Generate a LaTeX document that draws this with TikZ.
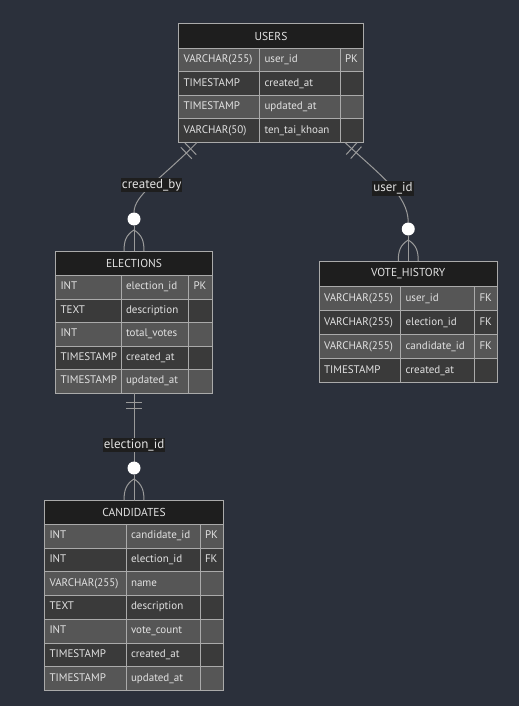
\documentclass[tikz,border=0pt]{standalone}
\usepackage{fontspec}
\setmainfont{PT Sans}
\usetikzlibrary{decorations.markings}

\definecolor{bgcol}{HTML}{2B303B}
\definecolor{hdrcol}{HTML}{1E1E1E}
\definecolor{rowa}{HTML}{565656}
\definecolor{rowb}{HTML}{3A3A3A}
\definecolor{edgecol}{HTML}{AAAAAA}
\definecolor{txtcol}{HTML}{E2E2E2}
\definecolor{linkcol}{HTML}{9A9A9A}

\tikzset{
  hdr/.style={draw=edgecol, fill=hdrcol, text=txtcol, line width=1pt, anchor=north west,
    inner sep=0pt, outer sep=0pt, font=\fontsize{11.5}{12}\selectfont},
  cell/.style={draw=edgecol, text=txtcol, line width=1pt, anchor=north west, inner xsep=5pt,
    inner ysep=0pt, outer sep=0pt, align=left, text height=7.5pt, text depth=2.5pt,
    font=\fontsize{11}{12}\selectfont},
  link/.style={draw=linkcol, line width=1pt},
  lbl/.style={fill=hdrcol, text=txtcol, inner xsep=1pt, inner ysep=1.5pt, font=\fontsize{13}{14}\selectfont},
  onemark/.style={postaction={decorate, decoration={markings,
      mark=at position 9pt with {\draw[linkcol, line width=1pt] (0pt,-8pt) -- (0pt,8pt);},
      mark=at position 15pt with {\draw[linkcol, line width=1pt] (0pt,-8pt) -- (0pt,8pt);}}}}
}

\begin{document}
\begin{tikzpicture}[x=1pt,y=-1pt]
  \fill[bgcol] (0,0) rectangle (519,706);

  % USERS
  \node[hdr, minimum width=185pt, minimum height=25pt] (users) at (178.5,23.5) {USERS};
  \foreach \ty/\nm/\ky [count=\i] in {VARCHAR(255)/user\_id/PK, TIMESTAMP/created\_at/{},
      TIMESTAMP/updated\_at/{}, VARCHAR(50)/ten\_tai\_khoan/{}}{
    \ifodd\i \def\rf{rowa}\else\def\rf{rowb}\fi
    \node[cell, fill=\rf, text width=71pt, minimum height=23.5pt] (users-t\i) at (178.5,{48.5+(\i-1)*23.5}) {\ty};
    \node[cell, fill=\rf, text width=70.5pt, minimum height=23.5pt] (users-n\i) at (users-t\i.north east) {\nm};
    \node[cell, fill=\rf, text width=13.5pt, minimum height=23.5pt] (users-k\i) at (users-n\i.north east) {\ky};
  }

  % ELECTIONS
  \node[hdr, minimum width=157pt, minimum height=24.5pt] (elections) at (55.5,251) {ELECTIONS};
  \foreach \ty/\nm/\ky [count=\i] in {INT/election\_id/PK, TEXT/description/{}, INT/total\_votes/{},
      TIMESTAMP/created\_at/{}, TIMESTAMP/updated\_at/{}}{
    \ifodd\i \def\rf{rowa}\else\def\rf{rowb}\fi
    \node[cell, fill=\rf, text width=55.5pt, minimum height=23.5pt] (elections-t\i) at (55.5,{275.5+(\i-1)*23.5}) {\ty};
    \node[cell, fill=\rf, text width=57.5pt, minimum height=23.5pt] (elections-n\i) at (elections-t\i.north east) {\nm};
    \node[cell, fill=\rf, text width=14pt, minimum height=23.5pt] (elections-k\i) at (elections-n\i.north east) {\ky};
  }

  % VOTE_HISTORY
  \node[hdr, minimum width=178.5pt, minimum height=25.5pt] (votes) at (319,261) {VOTE\_HISTORY};
  \foreach \ty/\nm/\ky [count=\i] in {VARCHAR(255)/user\_id/FK, VARCHAR(255)/election\_id/FK,
      VARCHAR(255)/candidate\_id/FK, TIMESTAMP/created\_at/{}}{
    \ifodd\i \def\rf{rowa}\else\def\rf{rowb}\fi
    \node[cell, fill=\rf, text width=71.5pt, minimum height=24pt] (votes-t\i) at (319,{286.5+(\i-1)*24}) {\ty};
    \node[cell, fill=\rf, text width=64pt, minimum height=24pt] (votes-n\i) at (votes-t\i.north east) {\nm};
    \node[cell, fill=\rf, text width=13pt, minimum height=24pt] (votes-k\i) at (votes-n\i.north east) {\ky};
  }

  % CANDIDATES
  \node[hdr, minimum width=179pt, minimum height=24pt] (candidates) at (44.5,500.5) {CANDIDATES};
  \foreach \ty/\nm/\ky [count=\i] in {INT/candidate\_id/PK, INT/election\_id/FK, VARCHAR(255)/name/{},
      TEXT/description/{}, INT/vote\_count/{}, TIMESTAMP/created\_at/{}, TIMESTAMP/updated\_at/{}}{
    \ifodd\i \def\rf{rowa}\else\def\rf{rowb}\fi
    \node[cell, fill=\rf, text width=71.5pt, minimum height=23.7pt] (candidates-t\i) at (44.5,{524.5+(\i-1)*23.7}) {\ty};
    \node[cell, fill=\rf, text width=64pt, minimum height=23.7pt] (candidates-n\i) at (candidates-t\i.north east) {\nm};
    \node[cell, fill=\rf, text width=13.5pt, minimum height=23.7pt] (candidates-k\i) at (candidates-n\i.north east) {\ky};
  }

  % USERS -- ELECTIONS
  \coordinate (ue) at ([xshift=18.5pt]users-t4.south west);
  \coordinate (ec) at ([yshift=32pt]elections.north);
  \draw[link, onemark] (ue) .. controls (160,180) and (134,195) .. ([yshift=6.5pt]ec)
    node[lbl, pos=0.5] {created\_by};
  \fill[white] (ec) circle (6.5pt);
  \draw[link] ([yshift=-6.5pt]ec) -- (elections.north);
  \foreach \s in {-1,1}
    \draw[link] ([yshift=-11pt]ec) .. controls +(8*\s,5) and +(0,-10) .. ([xshift=\s*10pt]elections.north);

  % USERS -- VOTE_HISTORY
  \coordinate (uv) at ([xshift=5pt]users-k4.south west);
  \coordinate (vc) at ([yshift=32pt]votes.north);
  \draw[link, onemark] (uv) .. controls (380,175) and (408.25,195) .. ([yshift=6.5pt]vc)
    node[lbl, pos=0.55] {user\_id};
  \fill[white] (vc) circle (6.5pt);
  \draw[link] ([yshift=-6.5pt]vc) -- (votes.north);
  \foreach \s in {-1,1}
    \draw[link] ([yshift=-11pt]vc) .. controls +(8*\s,5) and +(0,-10) .. ([xshift=\s*10pt]votes.north);

  % ELECTIONS -- CANDIDATES
  \coordinate (eb) at (elections.north |- elections-t5.south);
  \coordinate (cc) at ([yshift=32.5pt]candidates.north);
  \draw[link, onemark] (eb) -- ([yshift=6.5pt]cc) node[lbl, pos=0.76] {election\_id};
  \fill[white] (cc) circle (6.5pt);
  \draw[link] ([yshift=-6.5pt]cc) -- (candidates.north);
  \foreach \s in {-1,1}
    \draw[link] ([yshift=-11pt]cc) .. controls +(8*\s,5) and +(0,-10) .. ([xshift=\s*10pt]candidates.north);
\end{tikzpicture}
\end{document}
